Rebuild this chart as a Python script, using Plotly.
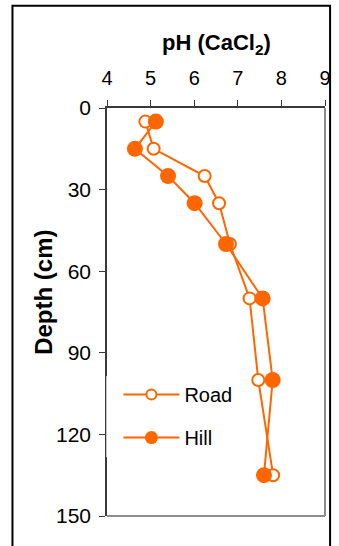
import plotly.graph_objects as go

depth = [5, 15, 25, 35, 50, 70, 100, 135]
road_ph = [4.88, 5.07, 6.24, 6.57, 6.82, 7.27, 7.47, 7.81]
hill_ph = [5.12, 4.64, 5.40, 6.01, 6.73, 7.57, 7.80, 7.60]
x_ticks = [4, 5, 6, 7, 8, 9]
y_ticks = [0, 30, 60, 90, 120, 150]

ORANGE = "#FF6600"
FONT = "Arial, Liberation Sans, sans-serif"

fig = go.Figure()
# data traces
fig.add_trace(go.Scatter(
    x=road_ph, y=depth, name="Road", mode="lines+markers", showlegend=False,
    line=dict(color=ORANGE, width=2),
    marker=dict(symbol="circle", size=12, color="white", line=dict(color=ORANGE, width=2)),
))
fig.add_trace(go.Scatter(
    x=hill_ph, y=depth, name="Hill", mode="lines+markers", showlegend=False,
    line=dict(color=ORANGE, width=2),
    marker=dict(symbol="circle", size=16, color=ORANGE, line=dict(color=ORANGE, width=0)),
))
# legend entries (smaller legend symbols as in the reference)
fig.add_trace(go.Scatter(
    x=[None], y=[None], name="Road", mode="lines+markers", legendgroup="a",
    line=dict(color=ORANGE, width=2),
    marker=dict(symbol="circle", size=10, color="white", line=dict(color=ORANGE, width=2)),
))
fig.add_trace(go.Scatter(
    x=[None], y=[None], name="Hill", mode="lines+markers", legendgroup="b",
    line=dict(color=ORANGE, width=2),
    marker=dict(symbol="circle", size=13, color=ORANGE, line=dict(color=ORANGE, width=0)),
))

L, R, T, B = 107.3, 8, 108.3, 30.3
W, H = 339, 546
pw = W - L - R
ph = H - T - B

def px2x(px):
    return (px - L) / pw

def py2y(py):
    return (H - B - py) / ph

fig.update_layout(
    width=W, height=H, autosize=False,
    margin=dict(l=L, r=R, t=T, b=B, pad=0),
    paper_bgcolor="white", plot_bgcolor="white",
    font=dict(family=FONT, color="black"),
    showlegend=True,
    legend=dict(
        x=px2x(119), y=py2y(375), xanchor="left", yanchor="top",
        bgcolor="rgba(255,255,255,0)", borderwidth=0,
        font=dict(size=20, family=FONT, color="black"),
        itemwidth=56, itemsizing="trace",
        traceorder="grouped", tracegroupgap=14,
    ),
    xaxis=dict(
        side="top", range=[4, 9], tickvals=x_ticks, ticktext=[str(v) for v in x_ticks],
        showgrid=False, zeroline=False,
        showline=True, linecolor="#3a3a3a", linewidth=1.5,
        ticks="outside", ticklen=6, tickcolor="#3a3a3a", tickwidth=1,
        tickfont=dict(size=20, family=FONT, color="black"),
        ticklabelstandoff=7,
    ),
    yaxis=dict(
        range=[150, 0], tickvals=y_ticks, ticktext=[str(v) for v in y_ticks],
        showgrid=False, zeroline=False,
        showline=True, linecolor="#3a3a3a", linewidth=1.5,
        ticks="outside", ticklen=6, tickcolor="#3a3a3a", tickwidth=1,
        tickfont=dict(size=21, family=FONT, color="black"),
        ticklabelstandoff=4,
    ),
    shapes=[
        dict(type="line", xref="x domain", yref="y domain", x0=1, x1=1, y0=0, y1=1,
             line=dict(color="#8c8c8c", width=2), layer="below"),
        dict(type="line", xref="x domain", yref="y domain", x0=0, x1=1, y0=0, y1=0,
             line=dict(color="#8c8c8c", width=2), layer="below"),
        dict(type="rect", xref="paper", yref="paper",
             x0=px2x(106.4), x1=px2x(109.5), y0=py2y(457), y1=py2y(376),
             fillcolor="rgba(255,255,255,0.8)", line=dict(width=0), layer="above"),
        dict(type="rect", xref="paper", yref="paper",
             x0=px2x(10.3), x1=px2x(336.2), y0=py2y(570), y1=py2y(6.2),
             fillcolor="rgba(0,0,0,0)", line=dict(color="black", width=2), layer="above"),
    ],
    annotations=[
        dict(text="<b>pH (CaCl<sub>2</sub>)</b>", xref="paper", yref="paper",
             x=0.5, y=py2y(44.5), xanchor="center", yanchor="middle", showarrow=False,
             font=dict(size=22, family=FONT, color="black")),
        dict(text="<b>Depth (cm)</b>", xref="paper", yref="paper", textangle=-90,
             x=px2x(42), y=py2y(292.5), xanchor="center", yanchor="middle", showarrow=False,
             font=dict(size=24, family=FONT, color="black")),
    ],
)

fig.write_html(
    "out.html",
    config={"displayModeBar": False},
    post_script="document.body.style.margin='0';document.body.style.overflow='hidden';",
)
